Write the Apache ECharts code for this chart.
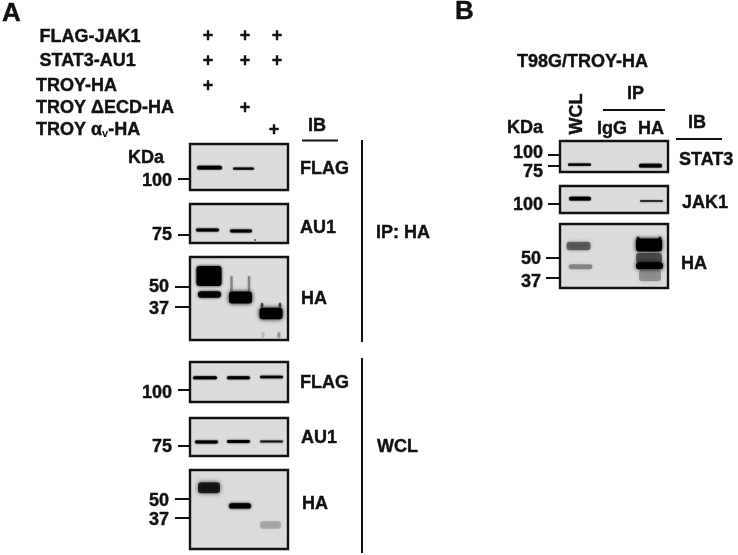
<!DOCTYPE html>
<html><head><meta charset="utf-8">
<style>html,body{margin:0;padding:0;background:#fff}#c{width:738px;height:555px;filter:blur(0.45px)}</style>
<script src="https://cdn.jsdelivr.net/npm/echarts@6/dist/echarts.min.js"></script>
</head><body><div id="c"></div>
<script>
// Band rows: [gel position, apparent kDa, signal 0-1, band width, band thickness in kDa, softness]
const ipFlagBands = [[19.5,116.2,1,25,5.6,.8],[53.5,114.7,.9,21,3.4,.8]];
const ipAu1Bands  = [[17.5,79.5,1,23,2.8,1],[51,78.5,1,22,2.8,1],[65,69.5,.8,2,1.6,0]];
const ipHaBands   = [[19,56.8,1,25,13,1.5],[19.5,44.8,.95,23,4.2,1.5],[41.5,51.6,.35,2.5,10.4,1.5],[59,51.6,.35,2.5,10.4,1.5],[50.5,42.8,1,23,7.8,2],[72,37.8,.6,2.5,3.2,1],[90,37.8,.6,2.5,3.2,1],[81,32.5,1,23,7.5,2],[73,18.5,.15,3,3.9,1.5],[89,18.5,.3,3,3.9,1.5]];
const wclFlagBands = [[15,118.5,1,24,4.6,1],[48.5,118.5,1,23,4.6,1],[81.5,119.5,1,23,3.9,1]];
const wclAu1Bands  = [[16.5,79,1,23,2.8,1],[48.5,79.5,1,23,2.8,1],[81.5,79.5,.85,23,1.8,1]];
const wclHaBands   = [[19,57.7,.8,22,7.5,2.5],[50,45.2,1,22,3.6,1.5],[80.5,32.2,.22,21,5,2.5]];
const t98Stat3Bands = [[19.5,78,1,23,5,.8],[90.5,75.7,1,23,8.5,.8]];
const t98Jak1Bands  = [[20,108,1,22,5.6,.8],[91.5,104.5,.85,23,2.6,.8]];
const t98HaBands    = [[18.5,57.8,.5,24,5.6,2],[20.5,44.3,.35,24,3.2,2],[78,62,.7,3,4,1],[100,62,.7,3,4,1],[89,58.45,1,26,8.6,2],[89,50,.55,26,6.5,2],[89.5,45,1,27,4.5,2],[90,38.6,.3,22,7.5,3]];

// Marker ticks in kDa
const ticks100 = [100];
const ticks75 = [75];
const ticks50_37 = [50,37];
const ticks100_75 = [100,75];

// Text labels
const constructs = ['FLAG-JAK1','STAT3-AU1','TROY-HA','TROY \u0394ECD-HA'];
const ibA = ['FLAG','AU1','HA','FLAG','AU1','HA'];
const ibB = ['STAT3','JAK1','HA'];

const FONT = '"Liberation Sans", Arial, sans-serif';
const INK = '#111';
const GEL = '#dcdcdc';

const panels = [
 {d:ipFlagBands,  t:ticks100,   l:190,w:98, top:144,h:46,yMax:151.75,yMin:82.75,tl:12,m:18,sh:[2.5]},
 {d:ipAu1Bands,   t:ticks75,    l:190,w:98, top:204,h:39,yMax:105.5,yMin:66.5,tl:12,m:18,sh:[1]},
 {d:ipHaBands,    t:ticks50_37, l:190,w:98, top:257,h:83,yMax:69.15,yMin:15.25,tl:15,m:21,sh:[1,2.5]},
 {d:wclFlagBands, t:ticks100,   l:190,w:98, top:362,h:40,yMax:142,yMin:82,tl:12,m:18,sh:[3]},
 {d:wclAu1Bands,  t:ticks75,    l:190,w:98, top:418,h:38,yMax:103,yMin:65,tl:12,m:18,sh:[1]},
 {d:wclHaBands,   t:ticks50_37, l:190,w:98, top:470,h:79,yMax:69.8,yMin:15.8,tl:15,m:21,sh:[2,2]},
 {d:t98Stat3Bands,t:ticks100_75,l:560,w:108,top:141,h:31,yMax:131.7,yMin:61.3,tl:12,m:17,sh:[-2,6]},
 {d:t98Jak1Bands, t:ticks100,   l:560,w:108,top:186,h:27,yMax:127,yMin:86.5,tl:12,m:17,sh:[1]},
 {d:t98HaBands,   t:ticks50_37, l:560,w:108,top:224,h:64,yMax:72.1,yMin:30.5,tl:14,m:19,sh:[1,4]}
];

function renderBand(params, api){
  const x=api.value(0),k=api.value(1),s=api.value(2),w=api.value(3),t=api.value(4),soft=api.value(5);
  const a=api.coord([x-w/2,k+t/2]), b=api.coord([x+w/2,k-t/2]);
  const h=Math.max(b[1]-a[1],1), col='rgba(0,0,0,'+s+')';
  return {type:'rect',
    shape:{x:a[0],y:a[1],width:b[0]-a[0],height:h,r:Math.min(h/2,3)},
    style:{fill:col,shadowBlur:soft*2,shadowColor:col}};
}

const grids=[],xAxes=[],yAxes=[],series=[];
panels.forEach((p,i)=>{
  grids.push({left:p.l,top:p.top,width:p.w,height:p.h,show:true,backgroundColor:GEL,borderColor:INK,borderWidth:2.4});
  xAxes.push({gridIndex:i,type:'value',min:0,max:p.w,show:false});
  const perPx=(p.yMax-p.yMin)/p.h;
  const labelAt=p.t.map((v,j)=>v-p.sh[j]*perPx);
  yAxes.push({gridIndex:i,type:'value',min:p.yMin,max:p.yMax,
    splitLine:{show:false},axisLine:{show:false},
    axisTick:{show:true,length:p.tl,customValues:p.t,lineStyle:{color:INK,width:2}},
    axisLabel:{show:true,customValues:labelAt,margin:p.m,color:INK,fontFamily:FONT,fontWeight:'bold',fontSize:18,
      textBorderColor:INK,textBorderWidth:0.4,
      formatter:(v)=>{let best=0;labelAt.forEach((q,j)=>{if(Math.abs(q-v)<Math.abs(labelAt[best]-v))best=j;});return String(p.t[best]);}}});
  series.push({type:'custom',xAxisIndex:i,yAxisIndex:i,clip:true,silent:true,data:p.d,renderItem:renderBand,
    encode:{x:0,y:1},dimensions:['gel','kDa','signal','w','t','soft']});
});

const txt=(text,x,y,extra)=>Object.assign({type:'text',x,y:y+1,silent:true,
  style:Object.assign({text,fill:INK,stroke:INK,lineWidth:0.4,font:'bold 18px '+FONT,align:'left',verticalAlign:'middle'},extra&&extra.style||{})},extra&&extra.el||{});
const ctr={style:{align:'center'}};
const bar=(x1,y1,x2,y2)=>({type:'line',silent:true,shape:{x1,y1,x2,y2},style:{stroke:INK,lineWidth:2}});

const elements=[
  txt('A',2,13,{style:{font:'bold 26px '+FONT}}),
  txt('B',455,11,{style:{font:'bold 26px '+FONT}}),
  txt(constructs[0],39.5,36.5),txt(constructs[1],39.5,60),txt(constructs[2],36,85),txt(constructs[3],36,107.5),
  {type:'text',x:36,y:130,silent:true,style:{text:'{m|TROY \u03B1}{s|v}{m|-HA}',fill:INK,align:'left',verticalAlign:'middle',
     rich:{m:{fontFamily:FONT,fontWeight:'bold',fontSize:18,fill:INK,stroke:INK,lineWidth:0.4},s:{fontFamily:FONT,fontWeight:'bold',fontSize:11,verticalAlign:'bottom',fill:INK}}}},
  txt('+',208,35,ctr),txt('+',245,35,ctr),txt('+',277,35,ctr),
  txt('+',208,60,ctr),txt('+',245,60,ctr),txt('+',277,60,ctr),
  txt('+',208,85,ctr),txt('+',245,107,ctr),txt('+',274,129,ctr),
  txt('IB',308,125),bar(302,140.5,338,140.5),
  txt('KDa',128,157),
  txt(ibA[0],300,168),txt(ibA[1],300,227),txt(ibA[2],301,298),
  txt(ibA[3],300,382),txt(ibA[4],301,437),txt(ibA[5],302,503),
  txt('IP: HA',376,232),txt('WCL',377,446),
  bar(362,140,362,342),bar(362,358,362,553),
  txt('T98G/TROY-HA',517,61),
  txt('IP',627,93),bar(603,110,665,110),
  txt('KDa',507,127),
  {type:'text',x:577,y:114,rotation:Math.PI/2,silent:true,style:{text:'WCL',fill:INK,stroke:INK,lineWidth:0.4,font:'bold 18px '+FONT,align:'center',verticalAlign:'middle'}},
  txt('IgG',597,128),txt('HA',638,128),
  txt('IB',688,122),bar(676,139,722,139),
  txt(ibB[0],679,159),txt(ibB[1],682,202),txt(ibB[2],681,263)
];

const chart=echarts.init(document.getElementById('c'),null,{renderer:'canvas'});
chart.setOption({animation:false,backgroundColor:'#fff',tooltip:{show:false},
  grid:grids,xAxis:xAxes,yAxis:yAxes,series,graphic:{elements}});
</script></body></html>
